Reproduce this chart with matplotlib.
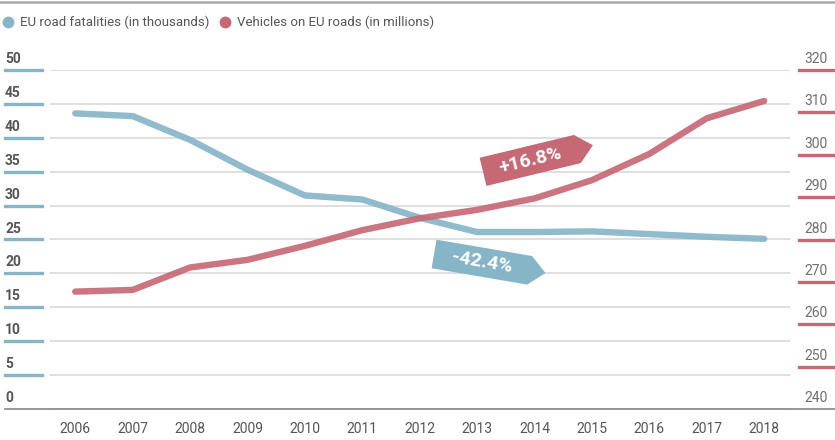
import matplotlib
matplotlib.use("Agg")
import matplotlib.pyplot as plt
import matplotlib.transforms as mtransforms
import numpy as np
from matplotlib.lines import Line2D
from matplotlib.patches import Polygon

plt.rcParams["font.family"] = ["Roboto", "DejaVu Sans"]

YEARS = list(range(2006, 2019))
FATALITIES = [43.6, 43.2, 39.7, 35.3, 31.5, 30.9, 28.2, 26.1, 26.1, 26.2, 25.8, 25.4, 25.1]
VEHICLES = [267.7, 268.1, 273.4, 275.2, 278.5, 282.2, 285.0, 287.0, 289.7, 294.0, 300.2, 308.6, 312.7]
LEFT_TICKS = [0, 5, 10, 15, 20, 25, 30, 35, 40, 45, 50]
RIGHT_TICKS = [240, 250, 260, 270, 280, 290, 300, 310, 320]
LEGEND = ["EU road fatalities (in thousands)", "Vehicles on EU roads (in millions)"]

BLUE = "#86B5C8"
RED = "#C76975"
GRID = "#DCDCDC"
TEXT = "#555555"

W, H = 835, 440
fig = plt.figure(figsize=(W / 100, H / 100), dpi=100)
ax = fig.add_axes([50 / W, 31 / H, 740 / W, 339 / H])
ax2 = ax.twinx()

ax.set_xlim(2005.56, 2018.45)
ax.set_ylim(LEFT_TICKS[0], LEFT_TICKS[-1])
ax2.set_ylim(RIGHT_TICKS[0], RIGHT_TICKS[-1])

for a in (ax, ax2):
    for s in a.spines.values():
        s.set_visible(False)
    a.tick_params(left=False, right=False, labelleft=False, labelright=False)

ax.set_xticks(YEARS)
ax.set_xticklabels([str(y) for y in YEARS])
ax.tick_params(axis="x", length=0, pad=9, labelsize=10, labelcolor=TEXT)
ax.set_yticks(LEFT_TICKS)
ax.grid(axis="y", color=GRID, linewidth=1.3)
ax.set_axisbelow(True)

# series
ax.plot(YEARS, FATALITIES, color=BLUE, linewidth=4.6, alpha=0.92,
        solid_capstyle="round", solid_joinstyle="round", zorder=3)
ax2.plot(YEARS, VEHICLES, color=RED, linewidth=4.6, alpha=0.92,
         solid_capstyle="round", solid_joinstyle="round", zorder=3)

# full-width baseline and coloured tick bars at both sides
left_tr = mtransforms.blended_transform_factory(fig.transFigure, ax.transData)
right_tr = mtransforms.blended_transform_factory(fig.transFigure, ax2.transData)
fig.add_artist(Line2D([5 / W, 1], [0, 0], transform=left_tr, color="#888888", linewidth=1.2))
for v in LEFT_TICKS:
    if v > 0:
        fig.add_artist(Line2D([5 / W, 42 / W], [v, v], transform=left_tr, color=BLUE, linewidth=2.4))
    lab_tr = mtransforms.offset_copy(left_tr, fig=fig, y=4, units="dots")
    fig.text(5 / W, v, str(v), transform=lab_tr, ha="left", va="bottom",
             fontsize=10, fontweight="bold", color=TEXT)
for v in RIGHT_TICKS:
    if v > RIGHT_TICKS[0]:
        fig.add_artist(Line2D([799 / W, 1], [v, v], transform=right_tr, color=RED, linewidth=2.4))
    lab_tr = mtransforms.offset_copy(right_tr, fig=fig, y=4, units="dots")
    fig.text(828 / W, v, str(v), transform=lab_tr, ha="right", va="bottom",
             fontsize=10, color="#6E6E6E")

# header rule and legend
fig.add_artist(Line2D([0, 1], [1 - 2 / H, 1 - 2 / H], color="#AAAAAA", linewidth=1.8))
for (x0, label, col) in [(8, LEGEND[0], BLUE), (225, LEGEND[1], RED)]:
    fig.add_artist(Line2D([x0 / W], [1 - 22 / H], marker="o", markersize=7.5,
                          color=col, linestyle="none"))
    fig.text((x0 + 12) / W, 1 - 22 / H, label, ha="left", va="center",
             fontsize=9.5, color=TEXT)


def draw_tag(axis, x, y, text, color, angle, length=113, height=29, head=16):
    cx, cy = axis.transData.transform((x, y))
    L, h = length, height
    body = L / 2 - head
    pts = np.array([(-L / 2, h / 2), (body, h / 2), (L / 2, 0), (body, -h / 2), (-L / 2, -h / 2)])
    t = np.deg2rad(angle)
    rot = np.array([[np.cos(t), -np.sin(t)], [np.sin(t), np.cos(t)]])
    pts = pts @ rot.T + [cx, cy]
    fig.add_artist(Polygon(pts, closed=True, facecolor=color, edgecolor="none",
                           transform=mtransforms.IdentityTransform(), zorder=5))
    tx, ty = np.array([-head / 2, 0]) @ rot.T + [cx, cy]
    fig.text(tx, ty, text, transform=mtransforms.IdentityTransform(), rotation=angle,
             rotation_mode="anchor", ha="center", va="center", fontsize=14,
             fontweight="bold", color="white", zorder=6)


draw_tag(ax2, 2014.06, 299.1, "+16.8%", RED, 13.6)
draw_tag(ax, 2013.22, 21.46, "-42.4%", BLUE, -9.7)

fig.savefig("out.png", dpi=100)
